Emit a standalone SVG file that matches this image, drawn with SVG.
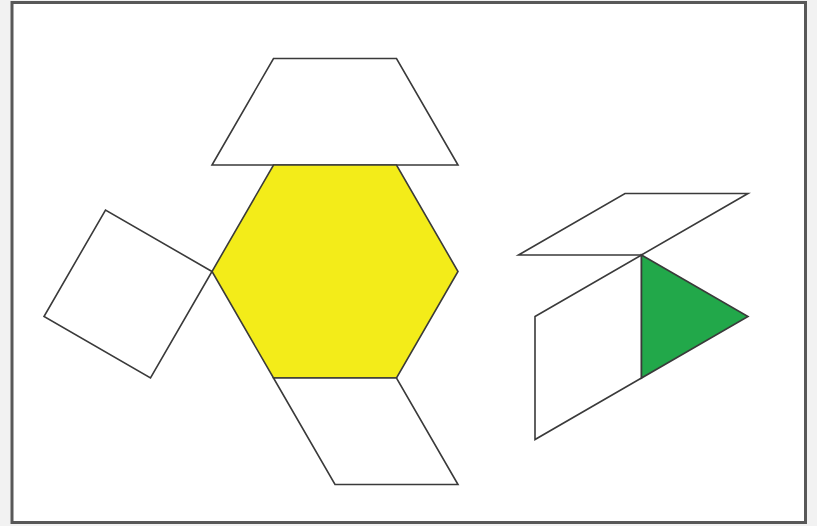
<svg xmlns="http://www.w3.org/2000/svg" width="817" height="526" viewBox="0 0 817 526">
<style>
.s{stroke:#3a3a3a;stroke-width:1.6;stroke-linejoin:miter;fill:#fff}
.y{fill:#f3ec19}
.g{fill:#22a84a}
</style>
<rect x="0" y="0" width="817" height="526" fill="#f2f2f2"/>
<rect id="frame" x="12" y="2.5" width="793.5" height="520" fill="#fff" stroke="#585858" stroke-width="3"/>
<g id="trapezoid"><polygon class="s" points="273.5,58.5 396.5,58.5 458,165 212,165"/></g>
<g id="hexagon"><polygon class="s y" points="273.5,165 396.5,165 458,271.5 396.5,378 273.5,378 212,271.5"/></g>
<g id="square"><polygon class="s" points="212,271.5 105.5,210 44,316.5 150.5,378"/></g>
<g id="rhombus-bottom"><polygon class="s" points="273.5,378 396.5,378 458,484.5 335,484.5"/></g>
<g id="rhombus-top-right"><polygon class="s" points="518.5,255 641.5,255 748,193.5 625,193.5"/></g>
<g id="rhombus-lower-right"><polygon class="s" points="641.5,255 641.5,378 535,439.5 535,316.5"/></g>
<g id="triangle"><polygon class="s g" points="641.5,255 748,316.5 641.5,378"/></g>
</svg>
